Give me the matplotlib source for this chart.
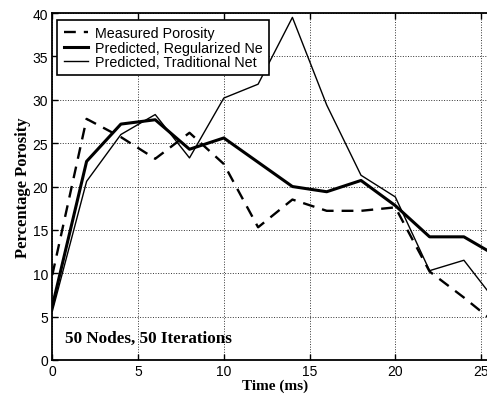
import matplotlib
matplotlib.use("Agg")
import matplotlib.pyplot as plt

# time samples (ms) and the three porosity curves
time_ms = [0, 2, 4, 6, 8, 10, 12, 14, 16, 18, 20, 22, 24, 26]
measured = [9.8, 27.8, 25.7, 23.2, 26.2, 22.6, 15.3, 18.5, 17.2, 17.2, 17.6, 10.2, 7.2, 4.0]
regularized = [6.2, 22.9, 27.2, 27.7, 24.3, 25.6, 22.8, 20.0, 19.4, 20.7, 17.8, 14.2, 14.2, 11.9]
traditional = [5.6, 20.6, 26.0, 28.3, 23.3, 30.2, 31.8, 39.5, 29.4, 21.3, 18.8, 10.3, 11.5, 6.4]

labels = ["Measured Porosity", "Predicted, Regularized Ne", "Predicted, Traditional Net"]
x_ticks = [0, 5, 10, 15, 20, 25]
y_ticks = [0, 5, 10, 15, 20, 25, 30, 35, 40]

fig = plt.figure(figsize=(4.87, 4.02), dpi=100)
ax = fig.add_axes([0.1074, 0.102, 0.9156, 0.863])

ax.plot(time_ms, measured, color="black", lw=1.7, dashes=(5, 3.4), label=labels[0])
ax.plot(time_ms, regularized, color="black", lw=2.2, label=labels[1])
ax.plot(time_ms, traditional, color="black", lw=1.0, label=labels[2])

ax.set_xlim(0, 26)
ax.set_ylim(0, 40)
ax.set_xticks(x_ticks)
ax.set_yticks(y_ticks)
ax.grid(True, linestyle=":", color="black", lw=0.7, alpha=0.8)
ax.tick_params(direction="in", top=True, right=True, length=4, width=1,
               labelsize=10, pad=3)
for lab in ax.get_xticklabels() + ax.get_yticklabels():
    lab.set_fontfamily("Liberation Sans")
for sp in ax.spines.values():
    sp.set_linewidth(1.3)

ax.set_xlabel("Time (ms)", family="Liberation Serif", fontweight="bold",
              fontsize=11, labelpad=0)
ax.set_ylabel("Percentage Porosity", family="Liberation Serif", fontweight="bold",
              fontsize=12, labelpad=1)

ax.text(0.75, 2.1, "50 Nodes, 50 Iterations", family="Liberation Serif",
        fontweight="bold", fontsize=12.3)

leg = ax.legend(loc="upper left", bbox_to_anchor=(0.0, 0.995),
                prop={"family": "Liberation Sans", "size": 10.3},
                frameon=True, fancybox=False, edgecolor="black",
                handlelength=1.7, borderpad=0.45, labelspacing=0.02,
                handletextpad=0.5, borderaxespad=0.35)
leg.get_frame().set_linewidth(1.2)
leg.get_frame().set_alpha(1)

fig.savefig("out.png", dpi=100)
